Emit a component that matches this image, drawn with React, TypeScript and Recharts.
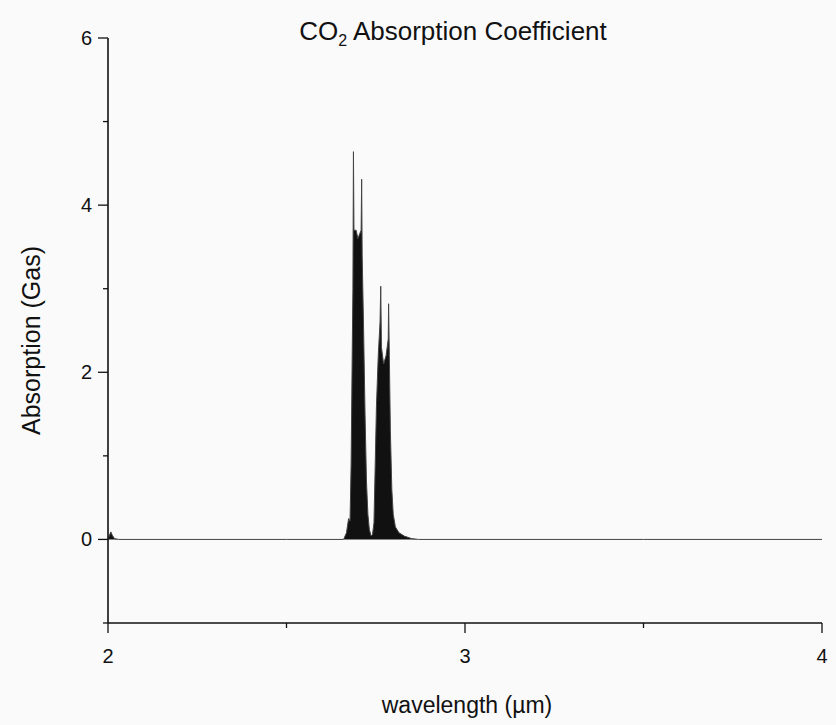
import React from 'react'
import { ComposedChart, Area, XAxis, YAxis, Label } from 'recharts'

// wavelength (µm) and gas absorption, hand-read envelope of the CO2 band
const wavelength = [
  2.0, 2.004, 2.008, 2.012, 2.018, 2.03, 2.5, 2.66, 2.668, 2.674, 2.678, 2.681, 2.684, 2.686,
  2.6875, 2.689, 2.695, 2.7, 2.709, 2.7105, 2.712, 2.716, 2.72, 2.724, 2.728, 2.732, 2.737,
  2.741, 2.745, 2.748, 2.752, 2.757, 2.762, 2.764, 2.766, 2.772, 2.779, 2.785, 2.786, 2.788,
  2.791, 2.795, 2.799, 2.805, 2.815, 2.83, 2.85, 2.87, 3.5, 4.0,
]
const absorption = [
  0, 0.05, 0.09, 0.05, 0.01, 0, 0, 0, 0.08, 0.25, 0.22, 0.9, 2.2, 3.0,
  4.64, 3.7, 3.7, 3.6, 3.7, 4.31, 3.4, 2.5, 1.5, 0.7, 0.3, 0.12, 0.04,
  0.06, 0.2, 0.8, 1.6, 2.2, 2.6, 3.03, 2.3, 2.1, 2.2, 2.4, 2.82, 2.2,
  1.3, 0.6, 0.3, 0.15, 0.08, 0.04, 0.01, 0, 0, 0,
]
const xTicks = [2, 2.5, 3, 3.5, 4]
const yTicks = [-1, 0, 1, 2, 3, 4, 5, 6]

const data = wavelength.map((w, i) => ({ w, abs: absorption[i] }))

const font = '"Liberation Sans", Arial, sans-serif'

function YTick(props: any) {
  const { x, y, payload } = props
  const major = payload.value % 2 === 0
  return (
    <g>
      <line x1={x - (major ? 10 : 5)} x2={x} y1={y} y2={y} stroke="#111" strokeWidth={1.3} />
      {major && (
        <text x={x - 16} y={y} textAnchor="end" dominantBaseline="central" fontSize={20} fontFamily={font} fill="#111">
          {payload.value}
        </text>
      )}
    </g>
  )
}

function XTick(props: any) {
  const { x, y, payload } = props
  const major = Number.isInteger(payload.value)
  return (
    <g>
      <line x1={x} x2={x} y1={y} y2={y + (major ? 10 : 5)} stroke="#111" strokeWidth={1.3} />
      {major && (
        <text x={x} y={y + 40} textAnchor="middle" fontSize={20} fontFamily={font} fill="#111">
          {payload.value}
        </text>
      )}
    </g>
  )
}

export default function App() {
  return (
    <div style={{ position: 'absolute', left: 0, top: 0, width: 836, height: 725, background: '#fafafa' }}>
      <div
        style={{
          position: 'absolute', left: 0, width: 836, top: 16, textAlign: 'center',
          fontFamily: font, fontSize: 26, lineHeight: '30px', color: '#111', paddingLeft: 70, boxSizing: 'border-box',
        }}
      >
        CO<sub style={{ fontSize: 16 }}>2</sub> Absorption Coefficient
      </div>
      <ComposedChart
        width={836}
        height={725}
        data={data}
        margin={{ top: 38, right: 14, left: 107, bottom: 101 }}
        style={{ position: 'absolute', left: 0, top: 0 }}
      >
        <XAxis
          dataKey="w"
          type="number"
          domain={[2, 4]}
          ticks={xTicks}
          height={1}
          tickSize={0}
          tickMargin={0}
          tickLine={false}
          tick={<XTick />}
          axisLine={{ stroke: '#111', strokeWidth: 1.6 }}
          allowDataOverflow
        >
          <Label
            content={({ viewBox }: any) => (
              <text x={viewBox.x + viewBox.width / 2 + 2} y={viewBox.y + 90} textAnchor="middle" fontSize={23} fontFamily={font} fill="#111">
                wavelength (µm)
              </text>
            )}
          />
        </XAxis>
        <YAxis
          type="number"
          domain={[-1, 6]}
          ticks={yTicks}
          width={1}
          tickSize={0}
          tickMargin={0}
          tickLine={false}
          tick={<YTick />}
          axisLine={{ stroke: '#111', strokeWidth: 1.6 }}
          allowDataOverflow
        >
          <Label
            content={({ viewBox }: any) => {
              const cx = 31
              const cy = viewBox.y + viewBox.height / 2 + 10
              return (
                <text x={cx} y={cy} transform={`rotate(-90 ${cx} ${cy})`} textAnchor="middle" dominantBaseline="central" fontSize={25} fontFamily={font} fill="#111">
                  Absorption (Gas)
                </text>
              )
            }}
          />
        </YAxis>
        <Area
          dataKey="abs"
          type="linear"
          baseValue={0}
          stroke="#444"
          strokeWidth={1}
          fill="#111"
          fillOpacity={1}
          isAnimationActive={false}
          dot={false}
          activeDot={false}
        />
      </ComposedChart>
    </div>
  )
}
